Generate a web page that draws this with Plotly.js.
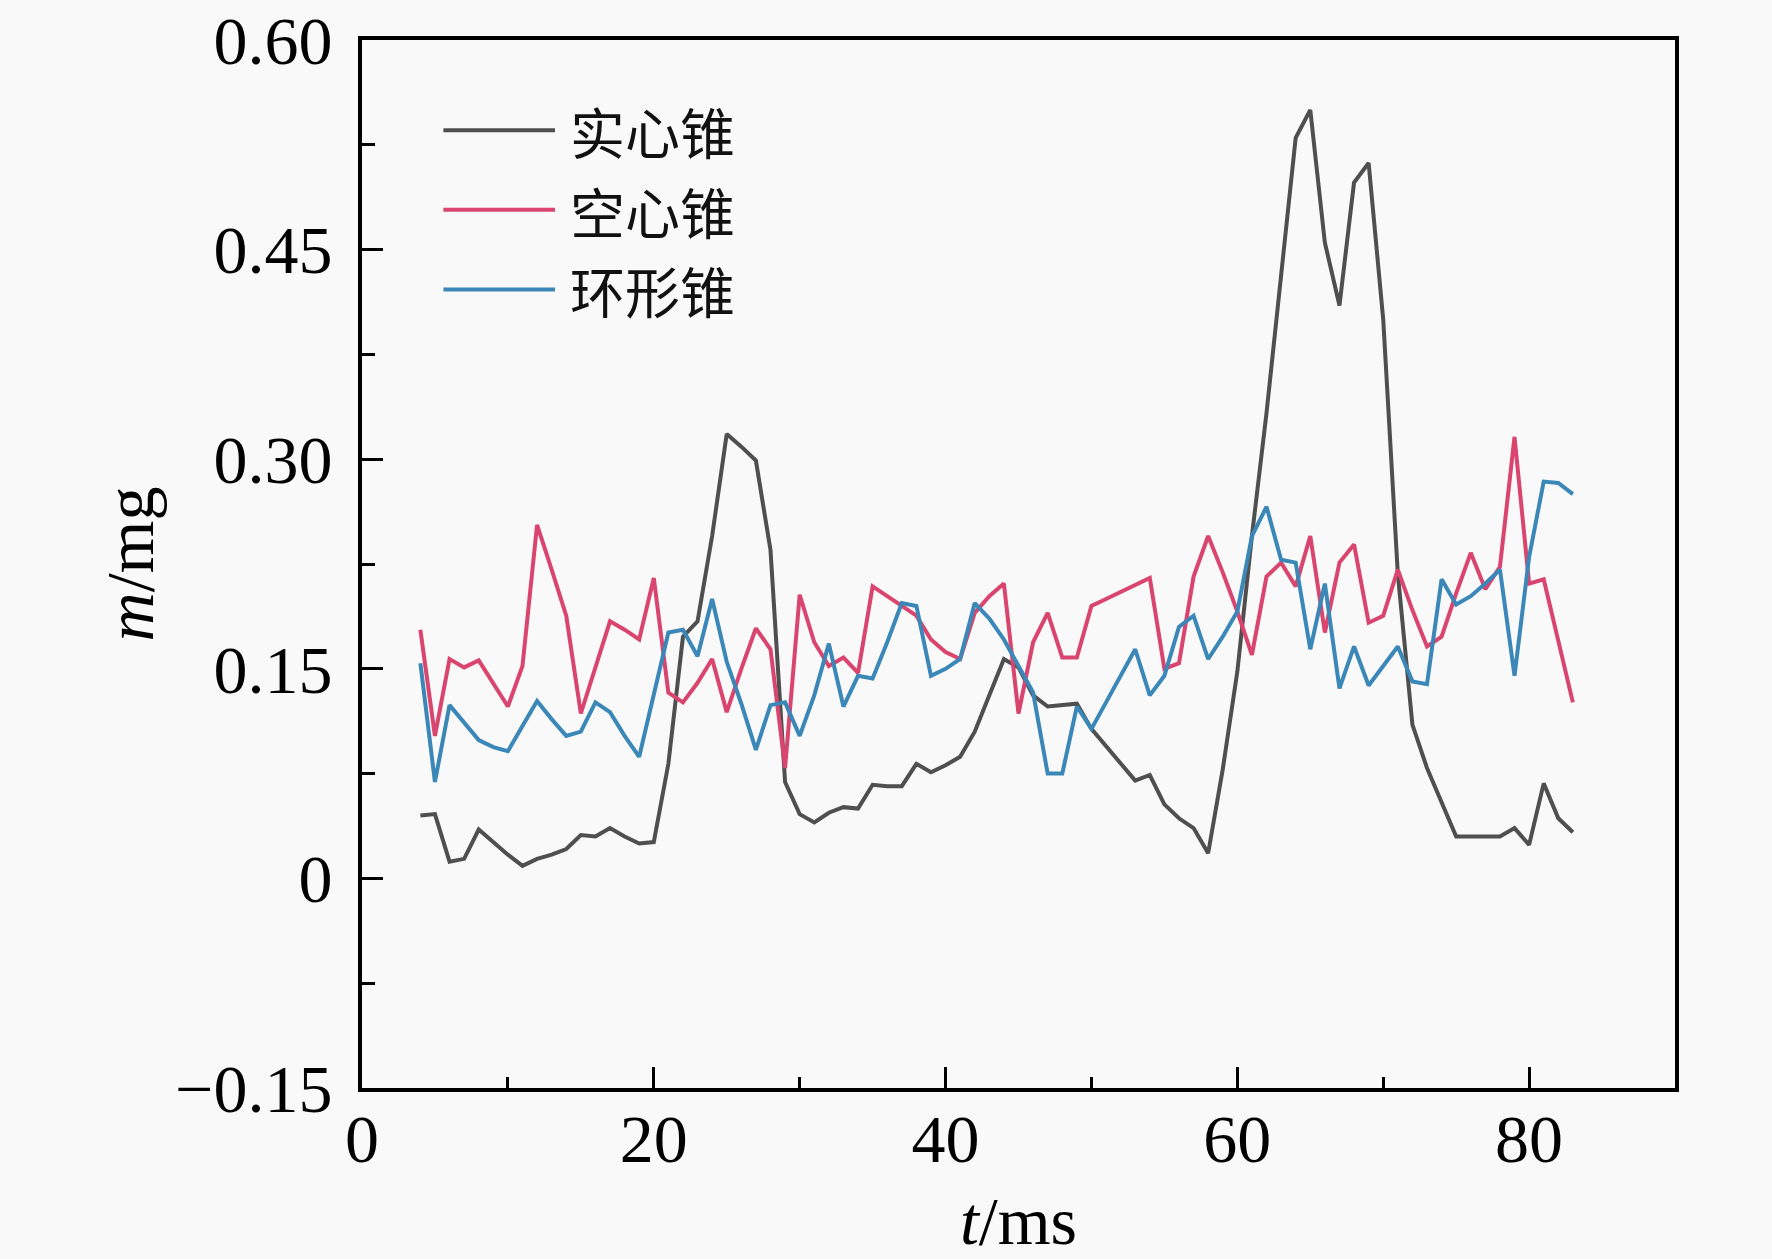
<!DOCTYPE html>
<html>
<head>
<meta charset="utf-8">
<script src="https://cdn.plot.ly/plotly-3.0.1.min.js"></script>
<style>
  html, body { margin: 0; padding: 0; background: #f9f9f9; }
  #chart { width: 1772px; height: 1259px; }
</style>
</head>
<body>
<div id="chart"></div>
<script>
// time axis, ms
const t = [];
for (let i = 4; i <= 83; i++) t.push(i);

// 实心锥
const solidCone = [
  0.045, 0.046, 0.012, 0.014, 0.035, 0.026, 0.017, 0.009, 0.014, 0.017,
  0.021, 0.031, 0.030, 0.036, 0.030, 0.025, 0.026, 0.082, 0.173, 0.184,
  0.245, 0.318, 0.309, 0.299, 0.235, 0.069, 0.046, 0.040, 0.047, 0.051,
  0.050, 0.067, 0.066, 0.066, 0.082, 0.076, 0.081, 0.087, 0.105, 0.131,
  0.157, 0.151, 0.131, 0.123, 0.124, 0.125, 0.107, 0.095, 0.083, 0.070,
  0.074, 0.053, 0.043, 0.036, 0.018, 0.078, 0.148, 0.245, 0.333, 0.430,
  0.530, 0.550, 0.455, 0.410, 0.498, 0.512, 0.400, 0.218, 0.110, 0.079,
  0.055, 0.030, 0.030, 0.030, 0.030, 0.036, 0.024, 0.068, 0.043, 0.033
];

// 空心锥
const hollowCone = [
  0.178, 0.102, 0.157, 0.151, 0.156, 0.140, 0.123, 0.152, 0.253, 0.221,
  0.188, 0.118, 0.150, 0.184, 0.178, 0.171, 0.215, 0.133, 0.126, 0.140,
  0.157, 0.119, 0.150, 0.179, 0.164, 0.079, 0.203, 0.169, 0.152, 0.158,
  0.147, 0.209, 0.202, 0.195, 0.188, 0.171, 0.162, 0.157, 0.190, 0.202,
  0.211, 0.118, 0.169, 0.190, 0.158, 0.158, 0.195, 0.200, 0.205, 0.210,
  0.215, 0.150, 0.154, 0.216, 0.245, 0.219, 0.191, 0.160, 0.216, 0.226,
  0.209, 0.245, 0.176, 0.226, 0.239, 0.183, 0.188, 0.221, 0.192, 0.166,
  0.173, 0.204, 0.233, 0.207, 0.223, 0.316, 0.211, 0.214, 0.169, 0.126
];

// 环形锥
const ringCone = [
  0.154, 0.069, 0.124, 0.112, 0.099, 0.094, 0.091, 0.109, 0.127, 0.114,
  0.102, 0.105, 0.126, 0.119, 0.102, 0.087, 0.130, 0.176, 0.178, 0.159,
  0.200, 0.155, 0.125, 0.092, 0.124, 0.126, 0.102, 0.131, 0.168, 0.123,
  0.145, 0.143, 0.169, 0.197, 0.195, 0.145, 0.150, 0.157, 0.197, 0.186,
  0.171, 0.152, 0.133, 0.075, 0.075, 0.123, 0.107, 0.126, 0.145, 0.164,
  0.131, 0.145, 0.180, 0.188, 0.157, 0.173, 0.191, 0.245, 0.266, 0.228,
  0.226, 0.164, 0.211, 0.136, 0.166, 0.138, 0.152, 0.166, 0.141, 0.139,
  0.214, 0.196, 0.202, 0.211, 0.221, 0.145, 0.230, 0.284, 0.283, 0.275
];

const seriesNames = ['实心锥', '空心锥', '环形锥'];
const seriesColors = ['#4f4f4f', '#d9456f', '#3a87b8'];

const yTickVals = [-0.15, 0, 0.15, 0.30, 0.45, 0.60];
const yTickText = ['\u22120.15', '0', '0.15', '0.30', '0.45', '0.60'];

const serif = 'Liberation Serif, Times New Roman, serif';
const cjk = 'Noto Sans CJK SC, sans-serif';

const traces = [solidCone, hollowCone, ringCone].map((ys, i) => ({
  x: t,
  y: ys,
  name: seriesNames[i],
  type: 'scatter',
  mode: 'lines',
  line: { color: seriesColors[i], width: 4 },
  showlegend: false
}));

// hand-made legend: long sample lines like the original
const legendRows = [0.914, 0.838, 0.762];
const shapes = legendRows.map((ry, i) => ({
  type: 'line', xref: 'paper', yref: 'paper',
  x0: 0.062, x1: 0.147, y0: ry, y1: ry,
  line: { color: seriesColors[i], width: 4 }
}));
const annotations = legendRows.map((ry, i) => ({
  xref: 'paper', yref: 'paper', x: 0.158, y: ry,
  xanchor: 'left', yanchor: 'middle', showarrow: false,
  borderpad: 0,
  text: seriesNames[i],
  font: { family: cjk, size: 55, color: '#111' }
}));

const layout = {
  width: 1772,
  height: 1259,
  margin: { l: 362, r: 97, t: 40, b: 171 },
  paper_bgcolor: '#f9f9f9',
  plot_bgcolor: '#f9f9f9',
  font: { family: serif, size: 68, color: '#000' },
  showlegend: false,
  xaxis: {
    range: [0, 90],
    dtick: 20,
    tick0: 0,
    ticks: 'inside',
    ticklen: 21,
    tickwidth: 3,
    tickcolor: '#000',
    minor: { dtick: 10, ticks: 'inside', ticklen: 11, tickwidth: 3, tickcolor: '#000' },
    showline: true, linewidth: 4, linecolor: '#000', mirror: true,
    showgrid: false, zeroline: false,
    ticklabelstandoff: -12,
    tickfont: { family: serif, size: 68 },
    title: { text: '<i>t</i>/ms', font: { family: serif, size: 68 }, standoff: 32 }
  },
  yaxis: {
    range: [-0.15, 0.60],
    tickmode: 'array',
    tickvals: yTickVals,
    ticktext: yTickText,
    ticklabeloverflow: 'allow',
    ticks: 'inside',
    ticklen: 21,
    tickwidth: 3,
    tickcolor: '#000',
    minor: { dtick: 0.075, tick0: 0, ticks: 'inside', ticklen: 13, tickwidth: 3, tickcolor: '#000' },
    showline: true, linewidth: 4, linecolor: '#000', mirror: true,
    showgrid: false, zeroline: false,
    ticklabelstandoff: 12,
    tickfont: { family: serif, size: 68 },
    title: { text: '<i>m</i>/mg', font: { family: serif, size: 68 }, standoff: 0 }
  },
  shapes: shapes,
  annotations: annotations
};

Plotly.newPlot('chart', traces, layout, { displayModeBar: false, staticPlot: true });
</script>
</body>
</html>
